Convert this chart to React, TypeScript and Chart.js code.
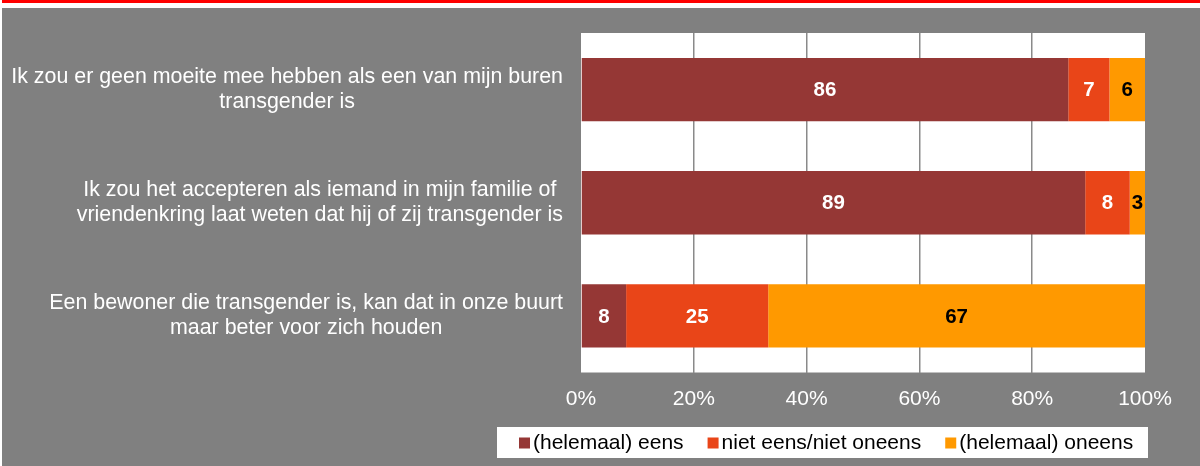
import React, { useEffect, useRef } from "react";
import { Chart, registerables } from "chart.js";

Chart.register(...registerables);

const categories: string[][] = [
  ["Ik zou er geen moeite mee hebben als een van mijn buren", "transgender is"],
  ["Ik zou het accepteren als iemand in mijn familie of", "vriendenkring laat weten dat hij of zij transgender is"],
  ["Een bewoner die transgender is, kan dat in onze buurt", "maar beter voor zich houden"],
];
const seriesNames = ["(helemaal) eens", "niet eens/niet oneens", "(helemaal) oneens"];
const eens = [86.4, 89.4, 8.0];
const neutraal = [7.3, 7.9, 25.2];
const oneens = [6.3, 2.7, 66.8];
const seriesColors = ["#953735", "#E94518", "#FF9900"];
const labelColors = ["#ffffff", "#ffffff", "#000000"];
const xMin = 0;
const xMax = 100;
const xStep = 20;

const FONT = '"Liberation Sans", Arial, Helvetica, sans-serif';

const backgroundPlugin = {
  id: "bgPlugin",
  beforeDraw(chart: any) {
    const { ctx, width, height, chartArea } = chart;
    ctx.save();
    ctx.fillStyle = "#808080";
    ctx.fillRect(0, 0, width, height);
    ctx.fillStyle = "#ffffff";
    ctx.fillRect(0, 0, width, 8);
    ctx.fillRect(0, 0, 2, height);
    ctx.fillStyle = "#FF0000";
    ctx.fillRect(2, 0, width - 2, 3);
    ctx.fillStyle = "#ffffff";
    ctx.fillRect(chartArea.left, chartArea.top, chartArea.right - chartArea.left, chartArea.bottom - chartArea.top);
    ctx.restore();
  },
};

const categoryLabelPlugin = {
  id: "catLabels",
  afterDraw(chart: any) {
    const { ctx } = chart;
    const yScale = chart.scales.y;
    ctx.save();
    ctx.font = `21.4px ${FONT}`;
    ctx.fillStyle = "#ffffff";
    ctx.textAlign = "center";
    ctx.textBaseline = "middle";
    const rightEdge = chart.chartArea.left - 18;
    const lineH = 25;
    (chart.data.labels as string[][]).forEach((lines, i) => {
      const y = yScale.getPixelForValue(i);
      const maxW = Math.max(...lines.map((l) => ctx.measureText(l).width));
      const cx = rightEdge - maxW / 2;
      lines.forEach((l, j) => {
        ctx.fillText(l, cx, y + (j - (lines.length - 1) / 2) * lineH);
      });
    });
    ctx.restore();
  },
};

const dataLabelPlugin = {
  id: "dataLabels",
  afterDatasetsDraw(chart: any) {
    const { ctx } = chart;
    ctx.save();
    ctx.font = `bold 20.5px ${FONT}`;
    ctx.textAlign = "center";
    ctx.textBaseline = "middle";
    chart.data.datasets.forEach((ds: any, di: number) => {
      const meta = chart.getDatasetMeta(di);
      meta.data.forEach((el: any, i: number) => {
        const v = ds.data[i];
        ctx.fillStyle = labelColors[di];
        ctx.fillText(String(Math.round(v)), (el.x + el.base) / 2, el.y + 1);
      });
    });
    ctx.restore();
  },
};

const legendPlugin = {
  id: "customLegend",
  afterDraw(chart: any) {
    const { ctx } = chart;
    ctx.save();
    const boxL = 497, boxT = 427, boxR = 1148, boxB = 458;
    ctx.fillStyle = "#ffffff";
    ctx.fillRect(boxL, boxT, boxR - boxL, boxB - boxT);
    ctx.font = `21px ${FONT}`;
    ctx.textBaseline = "middle";
    ctx.textAlign = "left";
    const cy = (boxT + boxB) / 2 + 0.5;
    let x = boxL + 22;
    chart.data.datasets.forEach((ds: any) => {
      ctx.fillStyle = ds.backgroundColor;
      ctx.fillRect(x, cy - 5.5, 11, 11);
      ctx.fillStyle = "#000000";
      ctx.fillText(ds.label, x + 14, cy);
      x += 14 + ctx.measureText(ds.label).width + 24;
    });
    ctx.restore();
  },
};

export default function App() {
  const ref = useRef<HTMLCanvasElement | null>(null);
  useEffect(() => {
    if (!ref.current) return;
    const values = [eens, neutraal, oneens];
    const chart = new Chart(ref.current, {
      type: "bar",
      data: {
        labels: categories as any,
        datasets: seriesNames.map((name, i) => ({
          label: name,
          data: values[i],
          backgroundColor: seriesColors[i],
          borderWidth: 0,
          barPercentage: 0.56,
          categoryPercentage: 1,
        })),
      },
      options: {
        indexAxis: "y",
        responsive: false,
        animation: false,
        layout: { padding: { left: 581, right: 55, top: 33, bottom: 0 } },
        plugins: { legend: { display: false }, tooltip: { enabled: false } },
        scales: {
          x: {
            stacked: true,
            min: xMin,
            max: xMax,
            ticks: {
              stepSize: xStep,
              callback: (v: any) => `${v}%`,
              color: "#ffffff",
              font: { family: FONT, size: 21 },
              padding: 14,
              maxRotation: 0,
            },
            grid: {
              color: (c: any) =>
                c.tick && (c.tick.value === xMin || c.tick.value === xMax) ? "rgba(0,0,0,0)" : "#8a8a8a",
              lineWidth: 1.5,
              drawTicks: false,
            },
            border: { display: false },
            afterFit: (s: any) => {
              s.height = 93.5;
            },
          },
          y: { stacked: true, display: false },
        },
      },
      plugins: [backgroundPlugin, categoryLabelPlugin, dataLabelPlugin, legendPlugin],
    } as any);
    return () => chart.destroy();
  }, []);
  return (
    <div style={{ position: "fixed", left: 0, top: 0, width: 1200, height: 466 }}>
      <canvas ref={ref} width={1200} height={466} style={{ display: "block" }} />
    </div>
  );
}
